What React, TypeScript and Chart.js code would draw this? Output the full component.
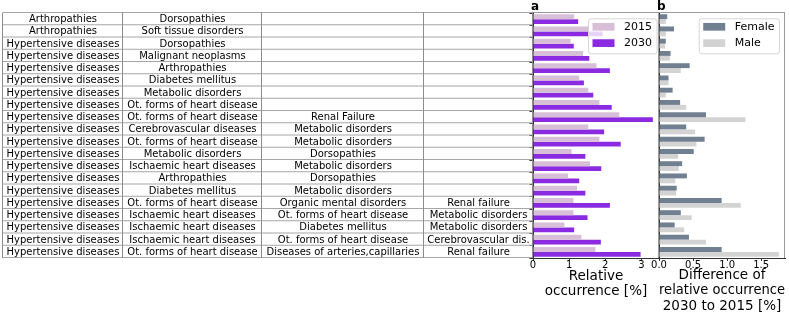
import React, { useEffect, useRef } from "react";
import { Chart, registerables } from "chart.js";

Chart.register(...registerables);

const FONT = "DejaVu Sans";

// ---- table columns ----
const col1 = [
  "Arthropathies", "Arthropathies", "Hypertensive diseases", "Hypertensive diseases",
  "Hypertensive diseases", "Hypertensive diseases", "Hypertensive diseases", "Hypertensive diseases",
  "Hypertensive diseases", "Hypertensive diseases", "Hypertensive diseases", "Hypertensive diseases",
  "Hypertensive diseases", "Hypertensive diseases", "Hypertensive diseases", "Hypertensive diseases",
  "Hypertensive diseases", "Hypertensive diseases", "Hypertensive diseases", "Hypertensive diseases",
];
const col2 = [
  "Dorsopathies", "Soft tissue disorders", "Dorsopathies", "Malignant neoplasms",
  "Arthropathies", "Diabetes mellitus", "Metabolic disorders", "Ot. forms of heart disease",
  "Ot. forms of heart disease", "Cerebrovascular diseases", "Ot. forms of heart disease", "Metabolic disorders",
  "Ischaemic heart diseases", "Arthropathies", "Diabetes mellitus", "Ot. forms of heart disease",
  "Ischaemic heart diseases", "Ischaemic heart diseases", "Ischaemic heart diseases", "Ot. forms of heart disease",
];
const col3 = [
  "", "", "", "", "", "", "", "",
  "Renal Failure", "Metabolic disorders", "Metabolic disorders", "Dorsopathies",
  "Metabolic disorders", "Dorsopathies", "Metabolic disorders", "Organic mental disorders",
  "Ot. forms of heart disease", "Diabetes mellitus", "Ot. forms of heart disease", "Diseases of arteries,capillaries",
];
const col4 = [
  "", "", "", "", "", "", "", "", "", "", "", "", "", "", "",
  "Renal failure", "Metabolic disorders", "Metabolic disorders", "Cerebrovascular dis.", "Renal failure",
];

const rowLabels = col1.map((c, i) => [c, col2[i], col3[i], col4[i]].filter(Boolean).join(" + "));

// ---- series ----
const rel2015 = [1.14, 1.55, 1.04, 1.39, 1.76, 1.28, 1.53, 1.84, 2.39, 1.53, 1.84, 1.07, 1.58, 0.97, 1.22, 1.12, 1.12, 0.87, 1.34, 1.73];
const rel2030 = [1.25, 1.93, 1.13, 1.56, 2.13, 1.41, 1.67, 2.18, 3.32, 1.97, 2.43, 1.45, 1.89, 1.28, 1.45, 2.13, 1.51, 1.14, 1.88, 2.98];
const diffFemale = [0.12, 0.22, 0.10, 0.17, 0.45, 0.14, 0.20, 0.31, 0.69, 0.40, 0.67, 0.51, 0.34, 0.41, 0.26, 0.92, 0.32, 0.23, 0.44, 0.92];
const diffMale = [0.10, 0.10, 0.09, 0.16, 0.32, 0.14, 0.10, 0.40, 1.27, 0.53, 0.55, 0.28, 0.29, 0.24, 0.25, 1.20, 0.48, 0.37, 0.69, 1.76];

const ticksA = [0, 1, 2, 3];
const ticksB = [0, 0.5, 1, 1.5];
const maxA = 3.49;
const maxB = 1.85;

// ---- plugins ----
const tablePlugin = {
  id: "comboTable",
  afterDraw(chart: any) {
    const { ctx, chartArea } = chart;
    const y = chart.scales.y;
    const n = chart.data.labels.length;
    const edges = [3, 123, 262, 424, chartArea.left];
    const rowH = (chartArea.bottom - chartArea.top) / n;
    const cols = [col1, col2, col3, col4];
    ctx.save();
    ctx.font = `10px ${FONT}`;
    ctx.textAlign = "center";
    ctx.textBaseline = "middle";
    ctx.fillStyle = "#000";
    for (let i = 0; i < n; i++) {
      const cy = y.getPixelForValue(i);
      cols.forEach((c, j) => {
        if (c[i]) ctx.fillText(c[i], (edges[j] + edges[j + 1]) / 2, cy + 0.5);
      });
    }
    ctx.lineWidth = 1;
    ctx.strokeStyle = "#a6a6a6";
    ctx.beginPath();
    for (let i = 0; i <= n; i++) {
      const yy = chartArea.top + i * rowH - 0.5;
      ctx.moveTo(edges[0], yy);
      ctx.lineTo(edges[4], yy);
    }
    ctx.stroke();
    ctx.strokeStyle = "#8c8c8c";
    ctx.beginPath();
    edges.forEach((x) => {
      const xx = Math.round(x) - 0.5;
      ctx.moveTo(xx, chartArea.top - 0.5);
      ctx.lineTo(xx, chartArea.bottom);
    });
    ctx.stroke();
    ctx.restore();
  },
};

const framePlugin = {
  id: "frameLegend",
  afterDraw(chart: any, _args: any, opts: any) {
    const { ctx, chartArea } = chart;
    const { left, right, top, bottom } = chartArea;
    ctx.save();
    // top / right spines
    ctx.strokeStyle = "#9a9a9a";
    ctx.lineWidth = 1;
    ctx.beginPath();
    ctx.moveTo(left, top - 0.5);
    ctx.lineTo(right, top - 0.5);
    ctx.moveTo(right - 0.5, top);
    ctx.lineTo(right - 0.5, bottom);
    ctx.stroke();
    // panel letter
    ctx.font = `bold 12px ${FONT}`;
    ctx.fillStyle = "#000";
    ctx.textAlign = "left";
    ctx.textBaseline = "alphabetic";
    ctx.fillText(opts.letter, left - 2, 10);
    // legend
    ctx.font = `11px ${FONT}`;
    const items = chart.data.datasets.map((d: any) => ({ label: d.label, color: d.backgroundColor }));
    const textW = Math.max(...items.map((it: any) => ctx.measureText(it.label).width));
    const boxW = 4.5 + 22 + 9.5 + textW + 4.5;
    const boxR = right - opts.inset;
    const boxL = boxR - boxW;
    const boxT = top + 5.3;
    const boxH = 35;
    ctx.beginPath();
    if ((ctx as any).roundRect) (ctx as any).roundRect(boxL + 0.5, boxT + 0.5, boxW, boxH, 2.5);
    else ctx.rect(boxL + 0.5, boxT + 0.5, boxW, boxH);
    ctx.fillStyle = "rgba(255,255,255,0.8)";
    ctx.fill();
    ctx.strokeStyle = "#d6d6d6";
    ctx.stroke();
    ctx.textBaseline = "middle";
    items.forEach((it: any, k: number) => {
      const cy = boxT + 8.5 + k * 16.3;
      ctx.fillStyle = it.color;
      ctx.fillRect(boxL + 4.5, cy - 3.85, 22, 7.7);
      ctx.fillStyle = "#000";
      ctx.fillText(it.label, boxL + 36, cy);
    });
    ctx.restore();
  },
};

function makeConfig(opts: {
  datasets: any[];
  max: number;
  ticks: number[];
  fmt: (v: number) => string;
  title: string[];
  titlePadBottom: number;
  padLeft: number;
  padRight: number;
  yWidth: number;
  yTicks: boolean;
  letter: string;
  inset: number;
  withTable: boolean;
}): any {
  return {
    type: "bar",
    data: { labels: rowLabels, datasets: opts.datasets },
    plugins: opts.withTable ? [tablePlugin, framePlugin] : [framePlugin],
    options: {
      indexAxis: "y",
      animation: false,
      responsive: false,
      events: [],
      layout: { padding: { left: opts.padLeft, right: opts.padRight, top: 13, bottom: 0 } },
      datasets: { bar: { categoryPercentage: 0.8, barPercentage: 1, borderWidth: 0 } },
      plugins: {
        legend: { display: false },
        tooltip: { enabled: false },
        frameLegend: { letter: opts.letter, inset: opts.inset },
      },
      scales: {
        x: {
          type: "linear",
          min: 0,
          max: opts.max,
          afterBuildTicks: (ax: any) => {
            ax.ticks = opts.ticks.map((v) => ({ value: v }));
          },
          afterFit: (ax: any) => {
            ax.height = 58;
          },
          grid: { drawOnChartArea: false, drawTicks: true, tickLength: 3, color: "#333" },
          border: { display: true, color: "#333", width: 1 },
          ticks: {
            autoSkip: false,
            maxRotation: 0,
            padding: -1.5,
            color: "#000",
            font: { family: FONT, size: 10 },
            callback: (v: any) => opts.fmt(Number(v)),
          },
          title: {
            display: true,
            text: opts.title,
            color: "#000",
            font: { family: FONT, size: 13.5, lineHeight: 1.14 },
            padding: { top: 0, bottom: opts.titlePadBottom },
          },
        },
        y: {
          type: "category",
          afterFit: (ax: any) => {
            ax.width = opts.yWidth;
          },
          ticks: { display: false },
          grid: {
            drawOnChartArea: false,
            drawTicks: opts.yTicks,
            tickLength: 3.5,
            color: "#333",
            offset: true,
          },
          border: { display: true, color: "#333", width: 1 },
        },
      },
    },
  };
}

export default function App() {
  const refA = useRef<HTMLCanvasElement>(null);
  const refB = useRef<HTMLCanvasElement>(null);

  useEffect(() => {
    Chart.defaults.font.family = FONT;
    const cfgA = makeConfig({
      datasets: [
        { label: "2015", data: rel2015, backgroundColor: "#d8bfd8" },
        { label: "2030", data: rel2030, backgroundColor: "#8a2be2" },
      ],
      max: maxA,
      ticks: ticksA,
      fmt: (v) => String(v),
      title: ["Relative", "occurrence [%]"],
      titlePadBottom: 16.5,
      padLeft: 529,
      padRight: 789 - 659,
      yWidth: 4,
      yTicks: true,
      letter: "a",
      inset: 2.5,
      withTable: true,
    });
    const cfgB = makeConfig({
      datasets: [
        { label: "Female", data: diffFemale, backgroundColor: "#708090" },
        { label: "Male", data: diffMale, backgroundColor: "#d3d3d3" },
      ],
      max: maxB,
      ticks: ticksB,
      fmt: (v) => v.toFixed(1),
      title: ["Difference of", "relative occurrence", "2030 to 2015 [%]"],
      titlePadBottom: 2,
      padLeft: 659,
      padRight: 4,
      yWidth: 0,
      yTicks: false,
      letter: "b",
      inset: 6,
      withTable: false,
    });
    const a = new Chart(refA.current as HTMLCanvasElement, cfgA);
    const b = new Chart(refB.current as HTMLCanvasElement, cfgB);
    return () => {
      a.destroy();
      b.destroy();
    };
  }, []);

  return (
    <div style={{ position: "absolute", left: 0, top: 0, width: 789, height: 316, background: "#fff" }}>
      <canvas ref={refA} width={789} height={316} style={{ position: "absolute", left: 0, top: 0 }} />
      <canvas ref={refB} width={789} height={316} style={{ position: "absolute", left: 0, top: 0 }} />
    </div>
  );
}
